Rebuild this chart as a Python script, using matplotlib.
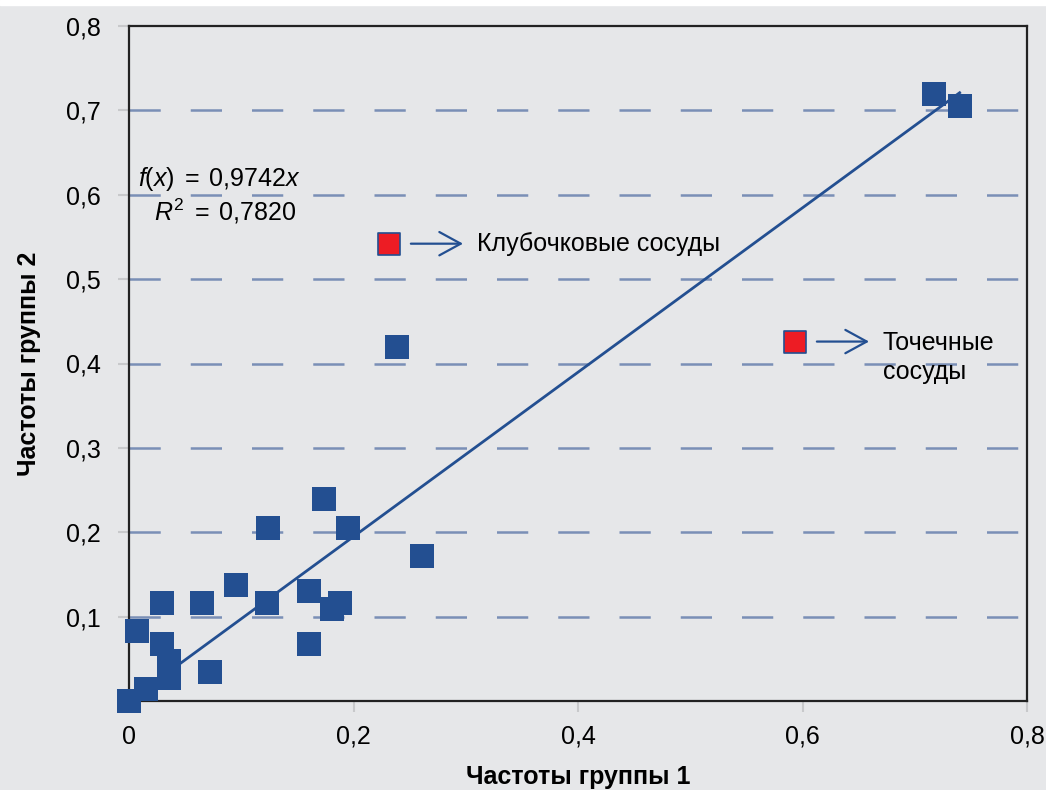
import matplotlib
matplotlib.use("Agg")
import matplotlib.pyplot as plt
from matplotlib.patches import Rectangle
from matplotlib.ticker import FuncFormatter

plt.rcParams['font.family'] = ['Liberation Sans', 'DejaVu Sans']
plt.rcParams['mathtext.fontset'] = 'custom'
plt.rcParams['mathtext.rm'] = 'Liberation Sans'
plt.rcParams['mathtext.it'] = 'Liberation Sans:italic'

# частоты признаков в двух группах
freq_group1 = [0.000, 0.015, 0.007, 0.029, 0.029, 0.036, 0.036, 0.065, 0.072,
               0.095, 0.123, 0.160, 0.160, 0.181, 0.188, 0.124, 0.174, 0.195,
               0.261, 0.239, 0.7175, 0.740]
freq_group2 = [0.000, 0.014, 0.083, 0.116, 0.068, 0.047, 0.027, 0.116, 0.034,
               0.137, 0.116, 0.130, 0.068, 0.109, 0.116, 0.205, 0.240, 0.205,
               0.172, 0.419, 0.720, 0.7055]

slope = 0.9742
r2 = 0.7820
trend_x = [0.025, 0.74]

# выделенные точки с подписями
marked_x = [0.2316, 0.5933]
marked_y = [0.542, 0.426]
marked_labels = ['Клубочковые сосуды', 'Точечные\nсосуды']

bg = '#e6e7e9'
blue = '#234f91'
fs = 18

fig = plt.figure(figsize=(10.46, 7.90), dpi=100, facecolor=bg)
# белая полоса сверху
fig.patches.append(Rectangle((0, 785 / 790), 1, 5 / 790, transform=fig.transFigure,
                             color='white', zorder=0))
ax = fig.add_axes([129 / 1046, 89 / 790, 898 / 1046, 675 / 790])
ax.set_facecolor(bg)

ax.set_xlim(0, 0.8)
ax.set_ylim(0, 0.8)
ax.set_xticks([0, 0.2, 0.4, 0.6, 0.8])
ax.set_yticks([0.1, 0.2, 0.3, 0.4, 0.5, 0.6, 0.7, 0.8])
fmt = FuncFormatter(lambda v, p: '0' if v == 0 else f'{v:.1f}'.replace('.', ','))
ax.xaxis.set_major_formatter(fmt)
ax.yaxis.set_major_formatter(fmt)
ax.tick_params(axis='both', length=8, width=1.5, color='#c8c9cb',
               labelsize=fs, pad=12)
ax.tick_params(axis='x', pad=9)

for sp in ax.spines.values():
    sp.set_color('#222222')
    sp.set_linewidth(1.6)

# пунктирная сетка
for yv in [0.1, 0.2, 0.3, 0.4, 0.5, 0.6, 0.7]:
    ax.axhline(yv, color='#7a8fb6', lw=1.8, dashes=(12.5, 12), zorder=1)

ax.scatter(freq_group1, freq_group2, marker='s', s=275, color=blue,
           linewidths=0, zorder=3, clip_on=False)

ax.plot(trend_x, [slope * v for v in trend_x], color=blue, lw=2, zorder=2)

# уравнение тренда и коэффициент детерминации
slope_txt = f'{slope:.4f}'.replace('.', '{,}')
r2_val = f'{r2:.4f}'.replace('.', '{,}')
eq = r'$\mathit{f}\mathrm{(}\mathit{x}\mathrm{)\;=\;%s}\mathit{x}$' % slope_txt
r2_txt = r'$\mathit{R}^{\mathrm{2}}\mathrm{\;=\;%s}$' % r2_val
ax.text(0.0805, 0.619, eq, fontsize=fs, ha='center', va='center', zorder=4)
ax.text(0.0855, 0.580, r2_txt, fontsize=fs, ha='center', va='center', zorder=4)

for mx, my, lab in zip(marked_x, marked_y, marked_labels):
    ax.scatter([mx], [my], marker='s', s=250, color='#ed1c24',
               edgecolors=blue, linewidths=1.2, zorder=4)
    ax.annotate('', xy=(mx + 0.066, my), xytext=(mx + 0.0195, my),
                arrowprops=dict(arrowstyle='->,head_length=1.1,head_width=0.6',
                                color=blue, lw=1.6, shrinkA=0, shrinkB=0,
                                mutation_scale=14))
    ty = my if '\n' not in lab else 0.407
    ax.text(mx + 0.078, ty, lab, fontsize=fs, ha='left', va='center',
            linespacing=1.3, zorder=4)

ax.set_xlabel('Частоты группы 1', fontsize=fs, fontweight='bold', labelpad=12)
ax.set_ylabel('Частоты группы 2', fontsize=fs, fontweight='bold', labelpad=18)

fig.savefig('out.png', dpi=100, facecolor=bg)
